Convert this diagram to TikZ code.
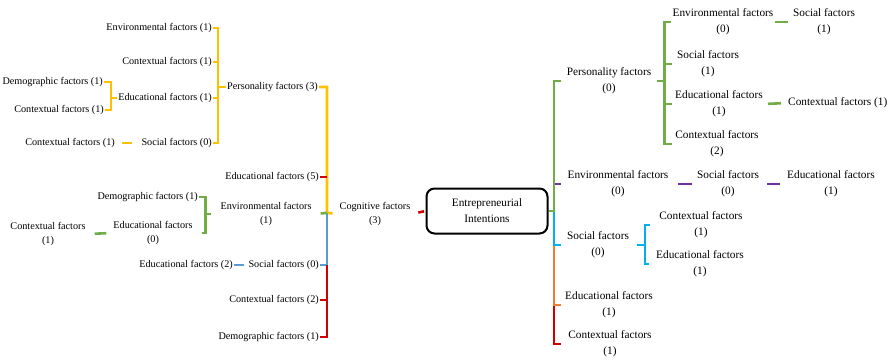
\documentclass[tikz,border=0pt]{standalone}
\usepackage{fontspec}
\setmainfont{Liberation Serif}
\definecolor{ylw}{HTML}{FFC000}
\definecolor{grn}{HTML}{70AD47}
\definecolor{rd}{HTML}{D00000}
\definecolor{blu}{HTML}{5B9BD5}
\definecolor{sky}{HTML}{00B0F0}
\definecolor{prp}{HTML}{7030A0}
\definecolor{org}{HTML}{ED7D31}
\begin{document}
\begin{tikzpicture}[x=1pt,y=-1pt]
        \tikzstyle{lft} = [inner sep=1pt, align=center, font=\fontsize{10.2}{13.5}\selectfont]
        \tikzstyle{rgt} = [inner sep=1pt, align=center, font=\fontsize{11.3}{16}\selectfont]
        \tikzstyle{box} = [rectangle, rounded corners=8pt, line width=2pt, draw=black, minimum width=121pt, minimum height=45pt, inner sep=0pt, align=center, font=\fontsize{11.3}{16}\selectfont]
        \tikzstyle{link} = [line width=2.6pt]
                \useasboundingbox (0,0) rectangle (893,362);

                % centre
                \node (ei) [box] at (487,211) {Entrepreneurial\\Intentions};
                \node (cog3) [lft] at (375,214) {Cognitive factors\\(3)};
                \coordinate (lt) at (327,213);
                \coordinate (rt) at (554,211);

                % left, upper part
                \node (pers3) [lft, anchor=west] at (226,87) {Personality factors (3)};
                \node (env1a) [lft, anchor=east] at (213,28) {Environmental factors (1)};
                \node (ctx1a) [lft, anchor=east] at (213,62) {Contextual factors (1)};
                \node (edu1a) [lft, anchor=east] at (213,98) {Educational factors (1)};
                \node (soc0a) [lft, anchor=east] at (213,143) {Social factors (0)};
                \node (dem1a) [lft, anchor=east] at (104,82) {Demographic factors (1)};
                \node (ctx1b) [lft, anchor=east] at (105,110) {Contextual factors (1)};
                \node (ctx1c) [lft, anchor=east] at (116,143) {Contextual factors (1)};

                % left, lower part
                \node (edu5) [lft, anchor=east] at (320,177) {Educational factors (5)};
                \node (env1b) [lft] at (266,214) {Environmental factors\\(1)};
                \node (dem1b) [lft, anchor=east] at (199,197) {Demographic factors (1)};
                \node (edu0b) [lft] at (153,233) {Educational factors\\(0)};
                \node (ctx1d) [lft] at (48,234) {Contextual factors\\(1)};
                \node (soc0b) [lft, anchor=east] at (320,265) {Social factors (0)};
                \node (edu2) [lft, anchor=east] at (234,265) {Educational factors (2)};
                \node (ctx2) [lft, anchor=east] at (320,300) {Contextual factors (2)};
                \node (dem1c) [lft, anchor=east] at (320,337) {Demographic factors (1)};

                % right
                \node (pers0) [rgt] at (609,81) {Personality factors\\(0)};
                \node (env0b) [rgt] at (723,22) {Environmental factors\\(0)};
                \node (soc1b) [rgt] at (824,22) {Social factors\\(1)};
                \node (soc1) [rgt] at (708,64) {Social factors\\(1)};
                \node (edu1f) [rgt] at (719,104) {Educational factors\\(1)};
                \node (ctx1g) [rgt, anchor=west] at (787,103) {Contextual factors (1)};
                \node (ctx2b) [rgt] at (717,144) {Contextual factors\\(2)};
                \node (env0) [rgt] at (618,184) {Environmental factors\\(0)};
                \node (soc0c) [rgt] at (728,184) {Social factors\\(0)};
                \node (edu1c) [rgt] at (831,184) {Educational factors\\(1)};
                \node (soc0d) [rgt] at (598,245) {Social factors\\(0)};
                \node (ctx1e) [rgt] at (701,225) {Contextual factors\\(1)};
                \node (edu1d) [rgt] at (700,264) {Educational factors\\(1)};
                \node (edu1e) [rgt] at (609,305) {Educational factors\\(1)};
                \node (ctx1f) [rgt] at (610,344) {Contextual factors\\(1)};

                % left links
                \draw[link, ylw, shorten >=6pt] (pers3.east) -| (lt) -- (cog3.west);
                \foreach \c in {env1a,ctx1a,edu1a,soc0a}
                    \draw[link, ylw] (pers3.west) -- ++(-8,0) |- (\c.east);
                \foreach \c in {dem1a,ctx1b}
                    \draw[link, ylw] (edu1a.west) -- ++(-6,0) |- (\c.east);
                \draw[link, ylw, shorten <=8pt, shorten >=6pt] (soc0a.west) -- (ctx1c.east);
                \draw[link, blu] (lt) |- (soc0b.east);
                \draw[link, blu, shorten <=3pt] (soc0b.west) -- (edu2.east);
                \draw[link, rd] (lt |- soc0b) |- (dem1c.east);
                \draw[link, rd] (lt |- ctx2) -- (ctx2.east);
                \draw[link, rd] (lt |- edu5) -- (edu5.east);
                \draw[link, grn, shorten >=8pt] (lt) -- (env1b.east);
                \draw[link, grn, shorten <=8pt] (env1b.west) -- ++(-14,0) |- (dem1b.east);
                \draw[link, grn, shorten >=8pt] (env1b.west) ++(-14,0) |- (edu0b.east);
                \draw[link, grn, shorten <=6pt, shorten >=8pt] (edu0b.west) -- (ctx1d.east);
                \draw[link, rd, shorten <=7pt, shorten >=1.5pt] (cog3.east) -- (ei.west);

                % right links
                \draw[link, prp, shorten >=5pt] (rt |- env0) -- (env0.west);
                \draw[link, rd, shorten >=6pt] (rt |- edu1e) |- (ctx1f.west);
                \draw[link, org, shorten >=3pt] (rt |- soc0d) |- (edu1e.west);
                \draw[link, sky, shorten >=5pt] (rt) |- (soc0d.west);
                \draw[link, grn, shorten >=5pt] (ei.east) -- (rt) |- (pers0.west);
                \foreach \c/\s in {env0b/0,soc1/4,edu1f/2,ctx2b/2}
                    \draw[link, grn, shorten <=5pt, shorten >=\s pt] (pers0.east) -- ++(12,0) |- (\c.west);
                \draw[link, grn, shorten >=4pt] (env0b.east) -- (soc1b.west);
                \draw[link, grn, shorten <=4pt, shorten >=6pt] (edu1f.east) -- (ctx1g.west);
                \draw[link, prp, shorten <=8.5pt, shorten >=4pt] (env0.east) -- (soc0c.west);
                \draw[link, prp, shorten <=7pt, shorten >=6pt] (soc0c.east) -- (edu1c.west);
                \draw[link, sky, shorten <=7pt] (soc0d.east) -- ++(15,0) coordinate (sb);
                \draw[link, sky, shorten >=8pt] (sb) |- (ctx1e.west);
                \draw[link, sky, shorten >=6pt] (sb) |- (edu1d.west);
    \end{tikzpicture}
\end{document}
